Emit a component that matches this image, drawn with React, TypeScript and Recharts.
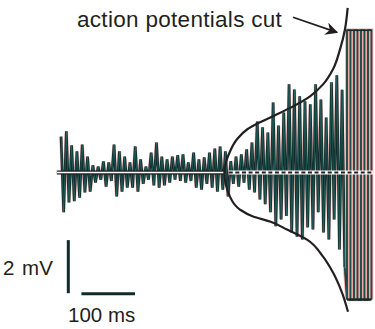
import React from 'react';
import { ComposedChart, Line, XAxis, YAxis } from 'recharts';

// peak and trough of each oscillation cycle (mV, relative to rest)
const peaks = [
  1.35, 1.55, 1.02, 0.8, 1.05, 0.6, 0.27, 0.22, 0.42, 0.38,
  1.05, 0.8, 0.6, 0.38, 0.98, 0.49, 0.22, 0.75, 1.13, 0.6,
  0.49, 0.6, 0.65, 0.68, 0.38, 0.75, 0.49, 0.57, 0.75, 0.9,
  0.98, 0.8, 0.43, 0.6, 0.68, 0.87, 1.13, 1.92, 1.7, 1.5,
  2.64, 1.77, 2.26, 3.32, 3.13, 2.87, 2.68, 2.57, 3.32, 2.75,
  2.07, 3.4, 3.66, 3.12,
];
const troughs = [
  -1.5, -1.13, -1.08, -0.95, -0.75, -0.72, -0.38, -0.27, -0.53, -0.32,
  -0.9, -0.72, -0.57, -0.57, -0.72, -0.43, -0.27, -0.49, -0.57, -0.49,
  -0.38, -0.27, -0.32, -0.38, -0.32, -0.57, -0.65, -0.43, -0.57, -0.72,
  -0.65, -0.9, -0.43, -0.53, -0.38, -0.65, -0.75, -1.02, -1.2, -1.5,
  -2.03, -1.77, -1.64, -2.26, -2.42, -2.53, -2.07, -2.15, -1.5, -2.26,
  -2.53, -1.77, -2.9, -3.58,
];

// action potentials clipped at the top and bottom (ms of each edge)
const cutEdges = [647.7, 654.2, 660.8, 667.3, 673.8, 680.3, 686.9, 693.4];
const cutTop = 5.36;
const cutBottom = -4.79;

// hand-drawn envelope, from its top end round the tip to its bottom end
const envelopeT = [
  649.0, 644.0, 634.7, 621.6, 603.0, 578.7, 547.0, 517.1, 485.3, 461.1, 442.4, 429.3,
  419.0, 429.3, 448.0, 472.3, 504.0, 535.7, 573.1, 603.0, 621.6, 638.4, 649.6,
];
const envelopeMv = [
  6.2, 5.4, 4.64, 3.89, 3.32, 2.87, 2.49, 2.19, 1.89, 1.62, 1.25, 0.79,
  0, -0.91, -1.4, -1.66, -1.85, -2.15, -2.53, -3.17, -3.77, -4.53, -5.25,
];

const T_START = 113.9; // ms, first cycle
const CYCLE = 9.9; // ms per cycle

const baselineSolid = [106, 418];
const baselineDashed = [427, 696];

const arrowT = [547, 629];
const arrowMv = [5.85, 5.28];

const SCALE_MV = 2;
const SCALE_MS = 100;
const scaleAt = { t: 127.5, mv: -2.55, tBar: 152, mvBar: -4.57 };

const DARK = '#0f2b2a';
const TEAL = '#2f8480';
const PINK = '#e9958f';
const INK = '#231f20';

const trace: { t: number; mv: number }[] = [];
peaks.forEach((p, i) => {
  trace.push({ t: T_START + i * CYCLE, mv: p });
  trace.push({ t: T_START + i * CYCLE + CYCLE / 2, mv: troughs[i] });
});
const cutTrace: { t: number; mv: number }[] = [trace[trace.length - 1]];
cutEdges.forEach((t, k) => {
  const up = k % 2 === 0;
  cutTrace.push({ t, mv: up ? cutBottom : cutTop });
  cutTrace.push({ t, mv: up ? cutTop : cutBottom });
});

const envelope = envelopeT.map((t, i) => ({ t, mv: envelopeMv[i] }));
const solid = baselineSolid.map((t) => ({ t, mv: 0 }));
const dashed = baselineDashed.map((t) => ({ t, mv: 0 }));
const arrow = arrowT.map((t, i) => ({ t, mv: arrowMv[i] }));
const cutTopEdge = [cutEdges[0], cutEdges[cutEdges.length - 1]].map((t) => ({ t, mv: cutTop }));
const cutBottomEdge = [cutEdges[0], cutEdges[cutEdges.length - 1]].map((t) => ({ t, mv: cutBottom }));
const mvBar = [
  { t: scaleAt.t, mv: scaleAt.mv },
  { t: scaleAt.t, mv: scaleAt.mv - SCALE_MV },
];
const msBar = [
  { t: scaleAt.tBar, mv: scaleAt.mvBar },
  { t: scaleAt.tBar + SCALE_MS, mv: scaleAt.mvBar },
];

const W = 375;
const H = 329;

export default function App() {
  const common = { dataKey: 'mv', dot: false, activeDot: false, isAnimationActive: false, legendType: 'none' as const };
  return (
    <div style={{ position: 'absolute', left: 0, top: 0, width: W, height: H, background: '#fff' }}>
      <ComposedChart width={W} height={H} margin={{ top: 0, right: 0, bottom: 0, left: 0 }}>
        <defs>
          <marker id="arrowHead" viewBox="0 0 10 10" refX="9" refY="5" markerWidth="7" markerHeight="7" orient="auto" markerUnits="strokeWidth">
            <path d="M0,0 L10,5 L0,10 L3,5 Z" fill={INK} />
          </marker>
        </defs>
        <XAxis type="number" dataKey="t" domain={[0, 700]} hide allowDataOverflow />
        <YAxis type="number" domain={[-5.9, 6.5]} hide allowDataOverflow />
        <Line {...common} data={trace} type="linear" stroke={PINK} strokeWidth={3.6} strokeOpacity={0.6} />
        <Line {...common} data={trace} type="linear" stroke={DARK} strokeWidth={2.6} />
        <Line {...common} data={trace} type="linear" stroke={TEAL} strokeWidth={0.7} strokeOpacity={0.7} />
        <Line {...common} data={cutTrace} type="linear" stroke={PINK} strokeWidth={3.6} strokeOpacity={0.8} />
        <Line {...common} data={cutTrace} type="linear" stroke={DARK} strokeWidth={1.7} />
        <Line {...common} data={cutTrace} type="linear" stroke={TEAL} strokeWidth={0.6} strokeOpacity={0.7} />
        <Line {...common} data={cutTopEdge} type="linear" stroke={DARK} strokeWidth={1.6} />
        <Line {...common} data={cutBottomEdge} type="linear" stroke={DARK} strokeWidth={2.4} />
        <Line {...common} data={solid} type="linear" stroke={INK} strokeWidth={4} />
        <Line {...common} data={solid} type="linear" stroke="#ffffff" strokeWidth={1.6} />
        <Line {...common} data={dashed} type="linear" stroke="#ffffff" strokeWidth={4} />
        <Line {...common} data={dashed} type="linear" stroke={INK} strokeWidth={2} strokeDasharray="4 2.6" />
        <Line {...common} data={envelope} type="monotoneY" stroke={INK} strokeWidth={2.2} />
        <Line {...common} data={arrow} type="linear" stroke={INK} strokeWidth={1.8} markerEnd="url(#arrowHead)" />
        <Line {...common} data={mvBar} type="linear" stroke={DARK} strokeWidth={3} />
        <Line {...common} data={msBar} type="linear" stroke={DARK} strokeWidth={3} />
      </ComposedChart>
      <svg width={W} height={H} style={{ position: 'absolute', left: 0, top: 0, pointerEvents: 'none' }}>
        <g fontFamily="'Liberation Sans', Arial, sans-serif" fill={INK}>
          <text x={77} y={26.7} fontSize={22.5} letterSpacing={0.3}>action potentials cut</text>
          <text x={3} y={275} fontSize={20.5} wordSpacing={2}>2 mV</text>
          <text x={68} y={321.7} fontSize={20.5}>100 ms</text>
        </g>
      </svg>
    </div>
  );
}
